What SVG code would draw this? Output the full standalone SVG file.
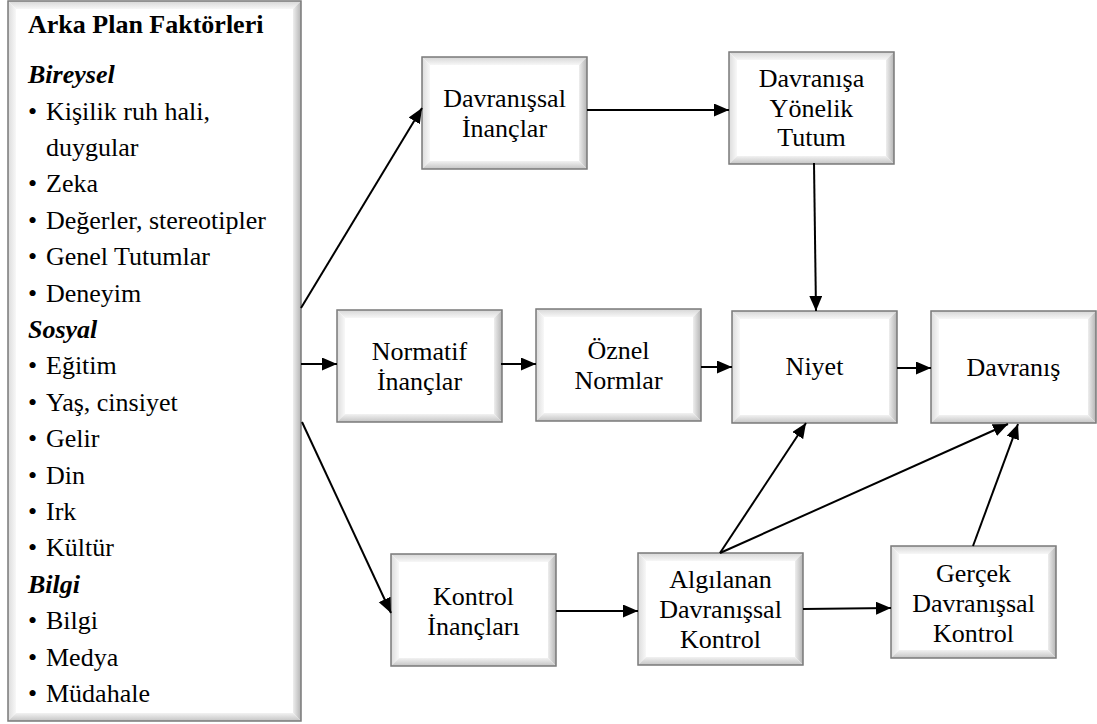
<svg xmlns="http://www.w3.org/2000/svg" xmlns:xlink="http://www.w3.org/1999/xlink" width="1097" height="724" viewBox="0 0 1097 724">
<defs>
<style>
.edge{stroke:#000;stroke-width:2;fill:none;marker-end:url(#ah);}
.frame{fill:none;stroke:#7a7a7a;stroke-width:1.5;}
</style>
<marker id="ah" markerUnits="userSpaceOnUse" markerWidth="16" markerHeight="14" refX="15" refY="6.5" orient="auto">
<path d="M0,0 L15,6.5 L0,13 z" fill="#000"/>
</marker>
<linearGradient id="gt" x1="0" y1="0" x2="0" y2="1"><stop offset="0" stop-color="#d6d6d6"/><stop offset="1" stop-color="#f7f7f7"/></linearGradient>
<linearGradient id="gl" x1="0" y1="0" x2="1" y2="0"><stop offset="0" stop-color="#dcdcdc"/><stop offset="1" stop-color="#f8f8f8"/></linearGradient>
<linearGradient id="gr" x1="1" y1="0" x2="0" y2="0"><stop offset="0" stop-color="#b4b4b4"/><stop offset="1" stop-color="#eeeeee"/></linearGradient>
<linearGradient id="gb" x1="0" y1="1" x2="0" y2="0"><stop offset="0" stop-color="#c4c4c4"/><stop offset="1" stop-color="#f2f2f2"/></linearGradient>
<g id="bx">
<rect x="0" y="0" width="165" height="112" fill="#fff"/>
<polygon points="0,0 165,0 157,8 8,8" fill="url(#gt)"/>
<polygon points="0,0 8,8 8,104 0,112" fill="url(#gl)"/>
<polygon points="165,0 165,112 157,104 157,8" fill="url(#gr)"/>
<polygon points="0,112 8,104 157,104 165,112" fill="url(#gb)"/>
<rect x="0" y="0" width="165" height="112" class="frame"/>
</g>
</defs>
<rect x="0" y="0" width="1097" height="724" fill="#fff"/>

<g id="panel">
<rect x="8" y="1" width="293" height="720" fill="#fff"/>
<polygon points="8,1 301,1 293,9 16,9" fill="url(#gt)"/>
<polygon points="8,1 16,9 16,713 8,721" fill="url(#gl)"/>
<polygon points="301,1 301,721 293,713 293,9" fill="url(#gr)"/>
<polygon points="8,721 16,713 293,713 301,721" fill="url(#gb)"/>
<rect x="8" y="1" width="293" height="720" class="frame"/>
<text font-family="Liberation Serif" font-size="26" font-weight="bold" x="28" y="33">Arka Plan Faktörleri</text>
<text font-family="Liberation Serif" font-size="26" font-weight="bold" font-style="italic" x="28" y="83">Bireysel</text>
<text font-family="Liberation Serif" font-size="26" x="28" y="119.5">•</text><text font-family="Liberation Serif" font-size="26" x="46" y="119.5">Kişilik ruh hali,</text>
<text font-family="Liberation Serif" font-size="26" x="46" y="156">duygular</text>
<text font-family="Liberation Serif" font-size="26" x="28" y="192.3">•</text><text font-family="Liberation Serif" font-size="26" x="46" y="192.3">Zeka</text>
<text font-family="Liberation Serif" font-size="26" x="28" y="228.7">•</text><text font-family="Liberation Serif" font-size="26" x="46" y="228.7">Değerler, stereotipler</text>
<text font-family="Liberation Serif" font-size="26" x="28" y="265.1">•</text><text font-family="Liberation Serif" font-size="26" x="46" y="265.1">Genel Tutumlar</text>
<text font-family="Liberation Serif" font-size="26" x="28" y="301.5">•</text><text font-family="Liberation Serif" font-size="26" x="46" y="301.5">Deneyim</text>
<text font-family="Liberation Serif" font-size="26" font-weight="bold" font-style="italic" x="28" y="337.9">Sosyal</text>
<text font-family="Liberation Serif" font-size="26" x="28" y="374.3">•</text><text font-family="Liberation Serif" font-size="26" x="46" y="374.3">Eğitim</text>
<text font-family="Liberation Serif" font-size="26" x="28" y="410.7">•</text><text font-family="Liberation Serif" font-size="26" x="46" y="410.7">Yaş, cinsiyet</text>
<text font-family="Liberation Serif" font-size="26" x="28" y="447.1">•</text><text font-family="Liberation Serif" font-size="26" x="46" y="447.1">Gelir</text>
<text font-family="Liberation Serif" font-size="26" x="28" y="483.5">•</text><text font-family="Liberation Serif" font-size="26" x="46" y="483.5">Din</text>
<text font-family="Liberation Serif" font-size="26" x="28" y="519.9">•</text><text font-family="Liberation Serif" font-size="26" x="46" y="519.9">Irk</text>
<text font-family="Liberation Serif" font-size="26" x="28" y="556.3">•</text><text font-family="Liberation Serif" font-size="26" x="46" y="556.3">Kültür</text>
<text font-family="Liberation Serif" font-size="26" font-weight="bold" font-style="italic" x="28" y="592.7">Bilgi</text>
<text font-family="Liberation Serif" font-size="26" x="28" y="629.1">•</text><text font-family="Liberation Serif" font-size="26" x="46" y="629.1">Bilgi</text>
<text font-family="Liberation Serif" font-size="26" x="28" y="665.5">•</text><text font-family="Liberation Serif" font-size="26" x="46" y="665.5">Medya</text>
<text font-family="Liberation Serif" font-size="26" x="28" y="701.9">•</text><text font-family="Liberation Serif" font-size="26" x="46" y="701.9">Müdahale</text>
</g>

<g id="davranissal-inanclar">
<use xlink:href="#bx" x="422" y="57"/>
<text font-family="Liberation Serif" font-size="26" text-anchor="middle" x="504.5" y="107">Davranışsal</text>
<text font-family="Liberation Serif" font-size="26" text-anchor="middle" x="504.5" y="137">İnançlar</text>
</g>
<g id="davranisa-yonelik-tutum">
<use xlink:href="#bx" x="729" y="52"/>
<text font-family="Liberation Serif" font-size="26" text-anchor="middle" x="811.5" y="87">Davranışa</text>
<text font-family="Liberation Serif" font-size="26" text-anchor="middle" x="811.5" y="117">Yönelik</text>
<text font-family="Liberation Serif" font-size="26" text-anchor="middle" x="811.5" y="146">Tutum</text>
</g>
<g id="normatif-inanclar">
<use xlink:href="#bx" x="337" y="310"/>
<text font-family="Liberation Serif" font-size="26" text-anchor="middle" x="419.5" y="360">Normatif</text>
<text font-family="Liberation Serif" font-size="26" text-anchor="middle" x="419.5" y="390">İnançlar</text>
</g>
<g id="oznel-normlar">
<use xlink:href="#bx" x="536" y="309"/>
<text font-family="Liberation Serif" font-size="26" text-anchor="middle" x="618.5" y="359">Öznel</text>
<text font-family="Liberation Serif" font-size="26" text-anchor="middle" x="618.5" y="389">Normlar</text>
</g>
<g id="niyet">
<use xlink:href="#bx" x="732" y="311"/>
<text font-family="Liberation Serif" font-size="26" text-anchor="middle" x="814.5" y="375">Niyet</text>
</g>
<g id="davranis">
<use xlink:href="#bx" x="931" y="311"/>
<text font-family="Liberation Serif" font-size="26" text-anchor="middle" x="1013.5" y="376">Davranış</text>
</g>
<g id="kontrol-inanclari">
<use xlink:href="#bx" x="391" y="554"/>
<text font-family="Liberation Serif" font-size="26" text-anchor="middle" x="473.5" y="605">Kontrol</text>
<text font-family="Liberation Serif" font-size="26" text-anchor="middle" x="473.5" y="635">İnançları</text>
</g>
<g id="algilanan-davranissal-kontrol">
<use xlink:href="#bx" x="638" y="553"/>
<text font-family="Liberation Serif" font-size="26" text-anchor="middle" x="720.5" y="588">Algılanan</text>
<text font-family="Liberation Serif" font-size="26" text-anchor="middle" x="720.5" y="618">Davranışsal</text>
<text font-family="Liberation Serif" font-size="26" text-anchor="middle" x="720.5" y="648">Kontrol</text>
</g>
<g id="gercek-davranissal-kontrol">
<use xlink:href="#bx" x="891" y="546"/>
<text font-family="Liberation Serif" font-size="26" text-anchor="middle" x="973.5" y="582">Gerçek</text>
<text font-family="Liberation Serif" font-size="26" text-anchor="middle" x="973.5" y="612">Davranışsal</text>
<text font-family="Liberation Serif" font-size="26" text-anchor="middle" x="973.5" y="642">Kontrol</text>
</g>

<g id="connectors">
<line class="edge" x1="301" y1="308" x2="422" y2="108"/>
<line class="edge" x1="301" y1="364" x2="337" y2="364"/>
<line class="edge" x1="302" y1="422" x2="391" y2="613"/>
<line class="edge" x1="587" y1="110" x2="729" y2="110"/>
<line class="edge" x1="814" y1="163" x2="816" y2="311"/>
<line class="edge" x1="501" y1="364" x2="536" y2="364"/>
<line class="edge" x1="701" y1="367" x2="732" y2="367"/>
<line class="edge" x1="897" y1="368" x2="931" y2="368"/>
<line class="edge" x1="556" y1="611" x2="638" y2="611"/>
<line class="edge" x1="803" y1="609" x2="891" y2="608"/>
<line class="edge" x1="720" y1="553" x2="806" y2="423"/>
<line class="edge" x1="720" y1="553" x2="1008" y2="424"/>
<line class="edge" x1="973" y1="546" x2="1018" y2="424"/>
</g>
</svg>
